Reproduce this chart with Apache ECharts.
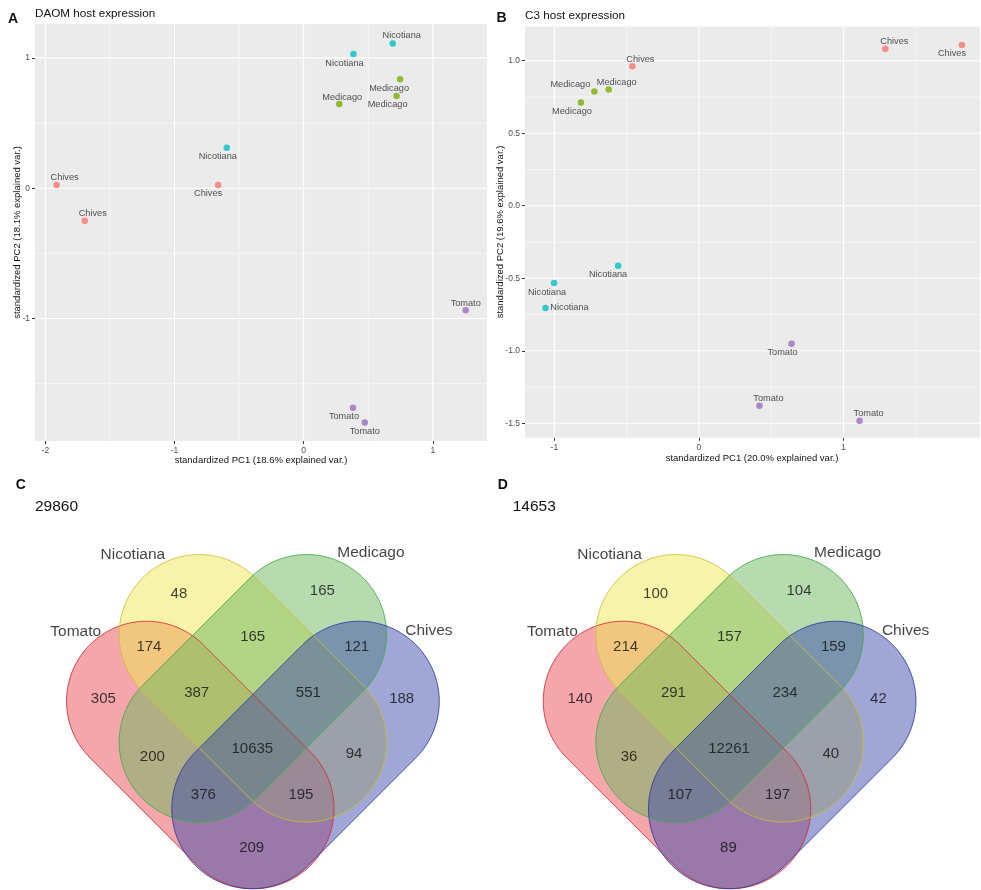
<!DOCTYPE html>
<html><head><meta charset="utf-8">
<script src="https://cdn.jsdelivr.net/npm/echarts@6/dist/echarts.min.js"></script>
<style>html,body{margin:0;padding:0;background:#fff}#c{width:981px;height:890px}</style>
</head><body><div id="c"></div>
<script>
// ================= DATA =================
const groupNames = ['Chives', 'Medicago', 'Nicotiana', 'Tomato'];

// Panel A: DAOM host expression (PCA)
const daomSample = ['Nicotiana','Nicotiana','Medicago','Medicago','Medicago','Nicotiana','Chives','Chives','Chives','Tomato','Tomato','Tomato'];
const daomPC1 = [0.69, 0.386, 0.747, 0.72, 0.276, -0.595, -0.662, -1.913, -1.695, 1.255, 0.382, 0.474];
const daomPC2 = [1.11, 1.03, 0.836, 0.708, 0.646, 0.31, 0.025, 0.025, -0.25, -0.936, -1.685, -1.798];

// Panel B: C3 host expression (PCA)
const c3Sample = ['Chives','Medicago','Medicago','Medicago','Chives','Chives','Nicotiana','Nicotiana','Nicotiana','Tomato','Tomato','Tomato'];
const c3PC1 = [-0.46, -0.624, -0.723, -0.816, 1.29, 1.82, -0.559, -1.002, -1.061, 0.641, 0.419, 1.112];
const c3PC2 = [0.961, 0.802, 0.788, 0.712, 1.083, 1.109, -0.413, -0.533, -0.705, -0.952, -1.379, -1.483];

// Tick values
const daomXTicks = [-2, -1, 0, 1];
const daomXMinor = [-1.5, -0.5, 0.5];
const daomYTicks = [-1, 0, 1];
const daomYMinor = [-1.5, -0.5, 0.5];
const c3XTicks = [-1, 0, 1];
const c3XMinor = [-0.5, 0.5, 1.5];
const c3YTicks = [-1.5, -1.0, -0.5, 0.0, 0.5, 1.0];
const c3YMinor = [-1.25, -0.75, -0.25, 0.25, 0.75];

// Venn diagrams (C: DAOM, D: C3)
const vennSets = ['Tomato', 'Nicotiana', 'Medicago', 'Chives'];
const vennRegions = ['N','M','TN','NM','MC','T','TNM','NMC','C','TM','TNMC','NC','TMC','TNC','TC'];
const daomCounts = [48, 165, 174, 165, 121, 305, 387, 551, 188, 200, 10635, 94, 376, 195, 209];
const c3Counts = [100, 104, 214, 157, 159, 140, 291, 234, 42, 36, 12261, 40, 107, 197, 89];
const daomTotal = 29860;
const c3Total = 14653;

// ================= LAYOUT / STYLE =================
const FONT = '"Liberation Sans", Arial, Helvetica, sans-serif';
const groupColors = { Chives: '#F8766D', Medicago: '#7CAE00', Nicotiana: '#00BFC4', Tomato: '#9B6DBF' };

const daomLabelOffset = [[9,-8],[-9,9],[-11,9],[-9,9],[3,-7],[-9,9],[-10,9],[8,-7],[8,-7],[0,-7],[-9,9],[0,9]];
const c3LabelOffset = [[8,-7],[8,-7],[-24,-7],[-9,9],[9,-7],[-10,9],[-10,9],[-7,9],[24,-1],[-9,9],[9,-7],[9,-7]];

const axA = { xmin: -2.08, xmax: 1.42, ymin: -1.94, ymax: 1.26 };
const axB = { xmin: -1.203, xmax: 1.945, ymin: -1.60, ymax: 1.235 };

// Venn layout in a unit frame (y up), 200 px per unit; shapes are capsules
const vennGeom = {
  r: 0.40, h: 0.38,
  centers: [[-0.263, -0.1667], [0, 0.1667], [0, 0.1667], [0.263, -0.1667]],
  angles: [-Math.PI / 4, -Math.PI / 4, Math.PI / 4, Math.PI / 4]
};
const vennRegionPos = {
  N: [-0.370, 0.638], M: [0.347, 0.655], TN: [-0.520, 0.375], NM: [-0.001, 0.425], MC: [0.519, 0.375],
  T: [-0.748, 0.112], TNM: [-0.281, 0.145], NMC: [0.277, 0.145], C: [0.744, 0.112],
  TM: [-0.503, -0.175], TNMC: [-0.003, -0.138], NC: [0.506, -0.163],
  TMC: [-0.248, -0.367], TNC: [0.240, -0.367], TC: [-0.006, -0.630]
};
const vennSetLabelPos = [[-0.886, 0.45], [-0.60, 0.833], [0.59, 0.845], [0.88, 0.453]];
const vennFill = ['rgba(233,77,85,0.5)', 'rgba(239,233,85,0.5)', 'rgba(107,183,95,0.5)', 'rgba(65,77,171,0.5)'];
const vennStroke = ['rgba(215,40,50,0.85)', 'rgba(200,192,55,0.85)', 'rgba(65,170,70,0.85)', 'rgba(45,60,160,0.85)'];

// ================= BUILD =================
const chart = echarts.init(document.getElementById('c'), null, { renderer: 'canvas', width: 981, height: 890 });

function pcaAxes(idx, ax, xt, yt, yFmt) {
  const tick = { show: true, length: 3, lineStyle: { color: '#333333', width: 1 } };
  const common = { gridIndex: idx, type: 'value', splitLine: { show: false }, axisLine: { show: false, onZero: false } };
  const x = Object.assign({}, common, {
    min: ax.xmin, max: ax.xmax,
    axisTick: Object.assign({}, tick, { customValues: xt }),
    axisLabel: { customValues: xt, formatter: v => String(v), fontSize: 8.5, color: '#4D4D4D', margin: 5, fontFamily: FONT }
  });
  const y = Object.assign({}, common, {
    min: ax.ymin, max: ax.ymax,
    axisTick: Object.assign({}, tick, { customValues: yt }),
    axisLabel: { customValues: yt, formatter: yFmt, fontSize: 8.5, color: '#4D4D4D', margin: 5, fontFamily: FONT }
  });
  return [x, y];
}

function gridLineSeries(idx, ax, xMaj, xMin, yMaj, yMin) {
  const my = (ax.ymin + ax.ymax) / 2, mx = (ax.xmin + ax.xmax) / 2;
  const items = [];
  xMin.forEach(v => items.push([v, my, 0, 0]));
  yMin.forEach(v => items.push([mx, v, 1, 0]));
  xMaj.forEach(v => items.push([v, my, 0, 1]));
  yMaj.forEach(v => items.push([mx, v, 1, 1]));
  return {
    type: 'custom', xAxisIndex: idx, yAxisIndex: idx, z: 1, silent: true, clip: false, animation: false,
    data: items,
    renderItem(params, api) {
      const cs = params.coordSys;
      const p = api.coord([api.value(0), api.value(1)]);
      const dir = api.value(2), major = api.value(3);
      const shape = dir === 0
        ? { x1: p[0], y1: cs.y, x2: p[0], y2: cs.y + cs.height }
        : { x1: cs.x, y1: p[1], x2: cs.x + cs.width, y2: p[1] };
      return { type: 'line', shape, style: { stroke: '#FFFFFF', lineWidth: major ? 1.1 : 0.55 } };
    }
  };
}

function pcaSeries(idx, pc1, pc2, samples, offsets) {
  return {
    type: 'scatter', xAxisIndex: idx, yAxisIndex: idx, symbol: 'circle', symbolSize: 6.5, z: 5, silent: true,
    data: pc1.map((x, i) => ({
      value: [x, pc2[i]], name: samples[i],
      itemStyle: { color: groupColors[samples[i]] },
      label: { offset: offsets[i] }
    })),
    label: { show: true, position: 'inside', formatter: p => p.name, fontSize: 9.2, fontFamily: FONT, color: '#262626' }
  };
}

function capsulePts(api, i) {
  const [cx, cy] = vennGeom.centers[i], ang = vennGeom.angles[i];
  const ux = Math.cos(ang), uy = Math.sin(ang), vx = -uy, vy = ux;
  const r = vennGeom.r, h = vennGeom.h, pts = [];
  const N = 90;
  for (let k = 0; k <= N; k++) {
    const t = -Math.PI / 2 + Math.PI * k / N;
    const a = h + r * Math.cos(t), b = r * Math.sin(t);
    pts.push(api.coord([cx + a * ux + b * vx, cy + a * uy + b * vy]));
  }
  for (let k = 0; k <= N; k++) {
    const t = Math.PI / 2 + Math.PI * k / N;
    const a = -h + r * Math.cos(t), b = r * Math.sin(t);
    pts.push(api.coord([cx + a * ux + b * vx, cy + a * uy + b * vy]));
  }
  return pts;
}

function vennSeries(idx, counts) {
  const setItems = vennSets.map((s, i) => [i, 0]);
  return [
    {
      type: 'custom', xAxisIndex: idx, yAxisIndex: idx, z: 2, silent: true, clip: false, data: setItems,
      renderItem(params, api) {
        const i = params.dataIndex;
        return { type: 'polygon', shape: { points: capsulePts(api, i) }, style: { fill: vennFill[i], stroke: null } };
      }
    },
    {
      type: 'custom', xAxisIndex: idx, yAxisIndex: idx, z: 3, silent: true, clip: false, data: setItems,
      renderItem(params, api) {
        const i = params.dataIndex;
        return { type: 'polygon', shape: { points: capsulePts(api, i) }, style: { fill: 'none', stroke: vennStroke[i], lineWidth: 1 } };
      }
    },
    {
      type: 'scatter', xAxisIndex: idx, yAxisIndex: idx, z: 4, silent: true, clip: false, symbolSize: 1,
      itemStyle: { color: 'rgba(0,0,0,0)' },
      data: vennRegions.map((r, i) => ({ value: vennRegionPos[r], name: String(counts[i]) })),
      label: { show: true, position: 'inside', formatter: p => p.name, fontSize: 15, fontFamily: FONT, color: '#111111' }
    },
    {
      type: 'scatter', xAxisIndex: idx, yAxisIndex: idx, z: 4, silent: true, clip: false, symbolSize: 1,
      itemStyle: { color: 'rgba(0,0,0,0)' },
      data: vennSets.map((s, i) => ({ value: vennSetLabelPos[i], name: s })),
      label: { show: true, position: 'inside', formatter: p => p.name, fontSize: 15.5, fontFamily: FONT, color: '#111111' }
    }
  ];
}

function txt(x, y, text, font, align, vAlign, rot, color) {
  return {
    type: 'text', x, y, rotation: rot || 0, silent: true, z: 100,
    style: { text, font, fill: color || '#111111', textAlign: align, textVerticalAlign: vAlign, align: align, verticalAlign: vAlign }
  };
}

const [xa, ya] = pcaAxes(0, axA, daomXTicks, daomYTicks, v => String(v));
const [xb, yb] = pcaAxes(1, axB, c3XTicks, c3YTicks, v => v.toFixed(1));
const vennAxis = i => ({ gridIndex: i, type: 'value', min: -1, max: 1, show: false });

const option = {
  animation: false,
  textStyle: { fontFamily: FONT },
  grid: [
    { left: 35, top: 24, width: 452, height: 417, show: true, backgroundColor: '#EBEBEB', borderWidth: 0, containLabel: false, outerBoundsMode: 'none' },
    { left: 525, top: 26.6, width: 455, height: 411.2, show: true, backgroundColor: '#EBEBEB', borderWidth: 0, containLabel: false, outerBoundsMode: 'none' },
    { left: 52.9, top: 521.65, width: 400, height: 400, show: false, containLabel: false, outerBoundsMode: 'none' },
    { left: 529.6, top: 521.65, width: 400, height: 400, show: false, containLabel: false, outerBoundsMode: 'none' }
  ],
  xAxis: [xa, xb, vennAxis(2), vennAxis(3)],
  yAxis: [ya, yb, vennAxis(2), vennAxis(3)],
  series: [
    gridLineSeries(0, axA, daomXTicks, daomXMinor, daomYTicks, daomYMinor),
    gridLineSeries(1, axB, c3XTicks, c3XMinor, c3YTicks, c3YMinor),
    pcaSeries(0, daomPC1, daomPC2, daomSample, daomLabelOffset),
    pcaSeries(1, c3PC1, c3PC2, c3Sample, c3LabelOffset),
    ...vennSeries(2, daomCounts),
    ...vennSeries(3, c3Counts)
  ],
  graphic: [
    txt(13, 19, 'A', 'bold 14px ' + FONT, 'center', 'middle'),
    txt(35, 14, 'DAOM host expression', '11.7px ' + FONT, 'left', 'middle'),
    txt(501.5, 18.5, 'B', 'bold 14px ' + FONT, 'center', 'middle'),
    txt(525, 15.5, 'C3 host expression', '11.7px ' + FONT, 'left', 'middle'),
    txt(261, 460, 'standardized PC1 (18.6% explained var.)', '9.5px ' + FONT, 'center', 'middle'),
    txt(752, 458.7, 'standardized PC1 (20.0% explained var.)', '9.5px ' + FONT, 'center', 'middle'),
    txt(17, 232.5, 'standardized PC2 (18.1% explained var.)', '9.5px ' + FONT, 'center', 'middle', Math.PI / 2),
    txt(500, 232, 'standardized PC2 (19.6% explained var.)', '9.5px ' + FONT, 'center', 'middle', Math.PI / 2),
    txt(20.7, 485, 'C', 'bold 14px ' + FONT, 'center', 'middle'),
    txt(502.7, 485, 'D', 'bold 14px ' + FONT, 'center', 'middle'),
    txt(35, 506.7, String(daomTotal), '15.5px ' + FONT, 'left', 'middle'),
    txt(512.7, 506.7, String(c3Total), '15.5px ' + FONT, 'left', 'middle')
  ]
};
chart.setOption(option);
</script>
</body></html>
